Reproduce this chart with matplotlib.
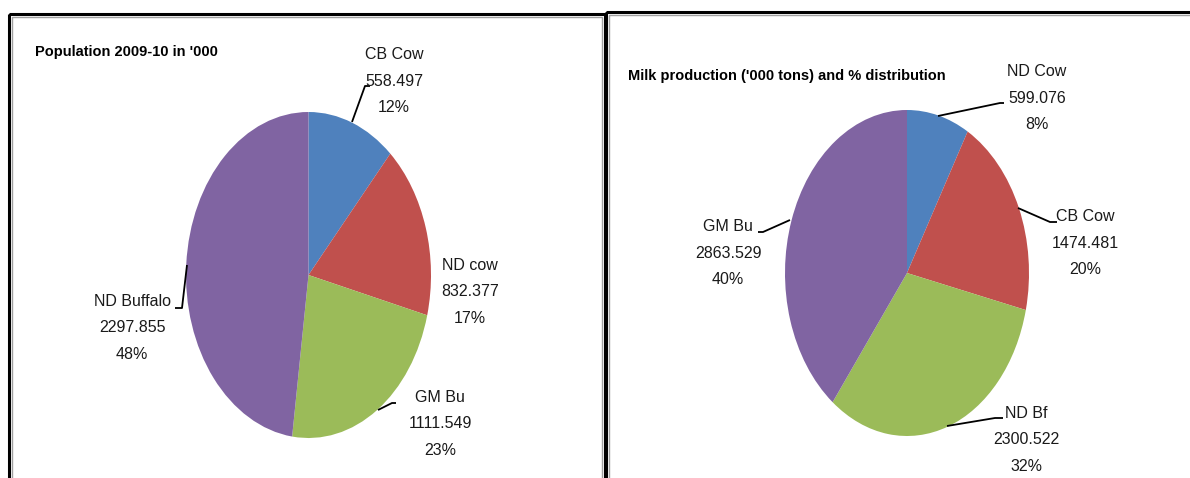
import matplotlib
matplotlib.use("Agg")
import matplotlib.pyplot as plt
from matplotlib.patches import Rectangle

plt.rcParams['font.family'] = ['Liberation Sans', 'DejaVu Sans']

W, H = 1190, 478

COLORS = ['#4F81BD', '#C0504D', '#9BBB59', '#8064A2']

# left pie: population 2009-10 in '000
pop_names  = ['CB Cow', 'ND cow', 'GM Bu', 'ND Buffalo']
pop_values = [558.497, 832.377, 1111.549, 2297.855]
pop_pcts   = ['12%', '17%', '23%', '48%']

# right pie: milk production ('000 tons)
milk_names  = ['ND Cow', 'CB Cow', 'ND Bf', 'GM Bu']
milk_values = [599.076, 1474.481, 2300.522, 2863.529]
milk_pcts   = ['8%', '20%', '32%', '40%']


def pie_axes(fig, cx, cy, rx, ry):
    # axes placed in pixel terms so the pie comes out as a tall ellipse
    ax = fig.add_axes([(cx - rx) / W, (H - cy - ry) / H, 2 * rx / W, 2 * ry / H])
    return ax


def draw_pie(ax, values):
    ax.pie(values, colors=COLORS, startangle=90, counterclock=False,
           radius=1, frame=True, wedgeprops=dict(linewidth=0))
    ax.set_xlim(-1, 1)
    ax.set_ylim(-1, 1)
    ax.set_aspect('auto')
    ax.axis('off')


fig = plt.figure(figsize=(W / 100, H / 100), dpi=100)

# overlay in pixel coordinates for frames, titles and labels
ov = fig.add_axes([0, 0, 1, 1], zorder=5)
ov.set_xlim(0, W)
ov.set_ylim(H, 0)
ov.axis('off')
ov.patch.set_alpha(0)

# panel frames
ov.add_patch(Rectangle((9, 14), 596, 480, fill=False, ec='black', lw=2.2))
ov.add_patch(Rectangle((12, 17), 590, 480, fill=False, ec='#a0a0a0', lw=1.0))
ov.add_patch(Rectangle((606, 12), 600, 480, fill=False, ec='black', lw=2.2))
ov.add_patch(Rectangle((609, 15), 600, 480, fill=False, ec='#a0a0a0', lw=1.0))

ov.text(35, 52, "Population 2009-10 in '000", fontsize=10.5, fontweight='bold', va='center', ha='left')
ov.text(628, 76, "Milk production ('000 tons) and % distribution", fontsize=10.5, fontweight='bold',
        va='center', ha='left')

ax1 = pie_axes(fig, 308.5, 275, 122.5, 163)
draw_pie(ax1, pop_values)
ax2 = pie_axes(fig, 907, 273, 122, 163)
draw_pie(ax2, milk_values)

# label block centres (pixels) and leader polylines, in slice order
pop_label_pos  = [(394, 81), (470, 292), (440, 424), (132, 328)]
pop_leaders    = [[(352, 122), (365, 86), (370, 86)],
                  None,
                  [(378, 410), (392, 403), (396, 403)],
                  [(187, 265), (182, 308), (175, 308)]]
milk_label_pos = [(1037, 98), (1085, 243), (1026, 440), (728, 253)]
milk_leaders   = [[(938, 116), (1000, 103), (1004, 103)],
                  [(1018, 208), (1050, 222), (1057, 222)],
                  [(947, 426), (995, 418), (1003, 418)],
                  [(790, 220), (763, 232), (758, 232)]]


def label_block(names, values, pcts, positions, leaders):
    for name, val, pct, (x, y), pts in zip(names, values, pcts, positions, leaders):
        ov.text(x, y, f"{name}\n{val:.3f}\n{pct}", fontsize=11.5, ha='center', va='center',
                linespacing=1.95, color='#1a1a1a')
        if pts:
            xs, ys = zip(*pts)
            ov.plot(xs, ys, color='black', lw=1.3, solid_capstyle='butt')


label_block(pop_names, pop_values, pop_pcts, pop_label_pos, pop_leaders)
label_block(milk_names, milk_values, milk_pcts, milk_label_pos, milk_leaders)

fig.savefig('out.png', dpi=100)
